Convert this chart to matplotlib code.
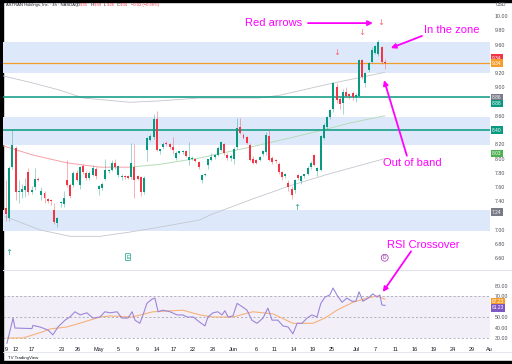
import numpy as np
import matplotlib
matplotlib.use("Agg")
import matplotlib.pyplot as plt
from matplotlib.patches import Rectangle
from matplotlib.lines import Line2D

plt.rcParams['font.family'] = ['Liberation Sans', 'DejaVu Sans']

GREEN = '#089981'
RED = '#f23645'
MAGENTA = '#ff00ff'
ZONE = '#dde9fb'

# 4h candles (index 0 = first visible bar)
opens = [7.31, 7.17, 7.88, 8.15, 7.53, 7.53, 7.56, 7.81, 7.53, 7.60,
         7.72, 7.49, 7.52, 7.43, 7.42, 7.28, 7.10, 7.38, 7.36, 7.70,
         7.63, 7.63, 7.80, 7.63, 7.89, 7.80, 7.73, 7.77, 7.86, 7.58,
         7.59, 7.72, 7.82, 7.84, 7.94, 7.77, 7.74, 7.76, 7.75, 7.74,
         7.88, 7.75, 7.74, 7.53, 8.12, 8.26, 8.30, 8.55, 8.10, 8.16,
         8.22, 8.20, 8.16, 8.01, 8.08, 8.09, 8.11, 7.98, 8.00, 7.99,
         7.95, 7.70, 7.77, 7.91, 7.98, 8.02, 8.05, 8.12, 8.20, 8.05,
         8.01, 8.00, 8.16, 8.44, 8.33, 8.30, 8.19, 8.00, 7.98, 7.98,
         8.06, 8.09, 8.31, 8.01, 7.98, 7.93, 7.81, 7.75, 7.66, 7.58,
         7.56, 7.77, 7.68, 7.75, 7.79, 7.88, 8.05, 7.82, 7.84, 8.29,
         8.44, 8.58, 8.70, 9.00, 8.84, 8.78, 8.94, 8.90, 8.92, 8.86,
         8.88, 9.38, 9.06, 9.24, 9.36, 9.48, 9.46, 9.56, 9.35]
highs = [7.70, 7.90, 8.40, 8.18, 7.70, 7.65, 7.73, 7.87, 7.62, 7.87,
         7.74, 7.60, 7.55, 7.45, 7.44, 7.38, 7.18, 7.40, 7.55, 7.98,
         7.66, 7.82, 7.84, 7.90, 7.92, 7.82, 7.82, 7.91, 7.88, 7.63,
         7.67, 8.00, 7.86, 7.98, 8.00, 7.91, 7.78, 7.77, 7.77, 8.22,
         8.20, 7.77, 7.76, 7.76, 8.30, 8.34, 8.62, 8.67, 8.14, 8.23,
         8.24, 8.22, 8.30, 8.10, 8.11, 8.12, 8.12, 8.23, 8.03, 8.00,
         7.97, 7.78, 7.80, 8.00, 8.08, 8.06, 8.17, 8.25, 8.22, 8.08,
         8.06, 8.16, 8.57, 8.57, 8.36, 8.32, 8.22, 8.03, 8.00, 8.04,
         8.12, 8.38, 8.40, 8.03, 8.00, 7.95, 7.83, 7.80, 7.70, 7.62,
         7.72, 7.79, 7.77, 7.79, 7.89, 7.96, 8.07, 7.88, 8.33, 8.50,
         8.60, 8.70, 9.08, 9.06, 8.86, 8.98, 9.00, 8.92, 8.95, 8.92,
         9.40, 9.40, 9.22, 9.36, 9.56, 9.60, 9.66, 9.58, 9.39]
lows = [7.13, 7.12, 7.86, 7.42, 7.38, 7.45, 7.46, 7.49, 7.50, 7.56,
        7.68, 7.42, 7.38, 7.38, 7.35, 7.08, 7.04, 7.32, 7.32, 7.60,
        7.45, 7.60, 7.68, 7.58, 7.78, 7.70, 7.70, 7.75, 7.72, 7.49,
        7.56, 7.70, 7.80, 7.82, 7.86, 7.74, 7.70, 7.72, 7.71, 7.72,
        7.45, 7.70, 7.48, 7.50, 7.97, 8.24, 8.28, 8.10, 8.06, 8.14,
        8.18, 8.14, 8.06, 7.98, 8.06, 8.07, 8.02, 7.91, 7.98, 7.95,
        7.86, 7.66, 7.75, 7.86, 7.96, 8.00, 8.03, 8.10, 8.05, 7.98,
        7.96, 7.93, 8.14, 8.34, 8.28, 8.20, 7.96, 7.92, 7.92, 7.96,
        8.04, 8.05, 7.96, 7.93, 7.94, 7.78, 7.70, 7.73, 7.55, 7.44,
        7.52, 7.70, 7.65, 7.73, 7.77, 7.86, 7.89, 7.76, 7.82, 8.27,
        8.42, 8.56, 8.66, 8.78, 8.70, 8.62, 8.86, 8.84, 8.82, 8.80,
        8.86, 9.12, 9.00, 9.22, 9.34, 9.46, 9.44, 9.32, 9.26]
closes = [7.22, 7.87, 8.19, 7.53, 7.55, 7.58, 7.61, 7.53, 7.56, 7.71,
          7.70, 7.55, 7.45, 7.41, 7.41, 7.11, 7.17, 7.39, 7.45, 7.63,
          7.48, 7.80, 7.70, 7.88, 7.81, 7.73, 7.80, 7.87, 7.75, 7.61,
          7.65, 7.84, 7.84, 7.94, 7.88, 7.89, 7.76, 7.74, 7.73, 7.94,
          7.70, 7.72, 7.53, 7.73, 8.29, 8.32, 8.55, 8.12, 8.13, 8.21,
          8.20, 8.16, 8.12, 8.08, 8.10, 8.11, 8.04, 8.02, 8.01, 7.97,
          7.88, 7.77, 7.79, 7.99, 8.02, 8.05, 8.15, 8.23, 8.08, 8.01,
          8.03, 8.14, 8.43, 8.36, 8.29, 8.22, 7.98, 7.94, 7.94, 8.02,
          8.10, 8.33, 7.98, 7.95, 7.96, 7.81, 7.74, 7.78, 7.60, 7.49,
          7.70, 7.73, 7.75, 7.78, 7.87, 7.94, 7.91, 7.87, 8.31, 8.47,
          8.58, 8.68, 9.06, 8.82, 8.76, 8.93, 8.88, 8.88, 8.86, 8.89,
          9.38, 9.14, 9.20, 9.34, 9.52, 9.58, 9.64, 9.36, 9.34]

# moving average and envelope curves (bar index, price)
mid_idx = [-1, 8.4, 19, 29.3, 38.6, 48, 60.4, 76, 88.5, 97.8, 107.2, 118]
mid_vals = [8.18, 8.05, 7.94, 7.88, 7.88, 7.92, 8.01, 8.16, 8.29, 8.39, 8.50, 8.60]
upper_idx = [-1, 7.5, 16.8, 24, 38.6, 48, 60.4, 79, 85.4, 101, 118]
upper_vals = [9.16, 9.07, 8.96, 8.85, 8.79, 8.81, 8.85, 8.85, 8.89, 9.05, 9.21]
lower_idx = [-0.3, 10.6, 20, 29.3, 38.6, 48, 60.4, 63.6, 76, 88.5, 101, 118]
lower_vals = [7.19, 7.00, 6.91, 6.91, 6.97, 7.04, 7.14, 7.21, 7.42, 7.62, 7.79, 8.00]

# RSI and its moving average (bar index, value)
rsi_idx = [0.3, 2.2, 2.8, 8.1, 8.4, 10.6, 13.1, 14.6, 16.2, 18.4, 19.9, 21.5, 23.1,
           25.2, 27.1, 29.3, 30.8, 32.4, 34.6, 36.1, 38.0, 39.3, 40.2, 41.7, 42.7,
           43.9, 45.5, 46.4, 47.4, 48.9, 51.1, 53.3, 55.1, 56.4, 58.3, 60.4, 62.0,
           62.9, 64.5, 66.0, 67.3, 68.2, 69.2, 70.7, 72.0, 73.5, 75.1, 76.6, 78.2,
           80.1, 81.6, 82.9, 84.7, 86.3, 87.9, 89.4, 90.7, 92.2, 93.8, 95.3, 96.9,
           98.1, 99.4, 100.9, 101.9, 103.1, 104.7, 106.2, 107.8, 109.0, 110.0,
           111.2, 112.8, 114.3, 115.6, 116.5, 117.1, 118.1]
rsi_vals = [25, 49, 39.5, 39, 42, 40.5, 37.6, 33, 40.5, 47, 50, 55, 52, 54, 49, 50,
            55, 54, 55, 49, 49, 55, 47, 44, 52, 63, 67, 68, 55, 56.5, 55, 52, 52,
            50, 50, 45, 41.5, 50, 54, 55, 52, 56, 50, 51, 63, 60, 56.5, 47, 44, 49,
            58.5, 47, 47, 41.5, 40.5, 34, 44, 44, 49, 52, 50, 63, 69, 71, 77.6, 71,
            64, 68, 65, 65, 74, 65, 68, 72, 69, 71, 61.5, 61]
rsi_ma_idx = [0.3, 5.3, 11.5, 13.7, 18.9, 24, 29.3, 32.4, 39.3, 45.8, 55.1, 60.4,
              64.5, 70.7, 76.9, 83.2, 89.4, 95.6, 99.4, 103.1, 108.1, 112.5, 115.6, 118.1]
rsi_ma_vals = [30, 30, 36, 38.6, 40.5, 45, 50, 51, 50, 55, 56.5, 52, 50, 50, 55, 53,
               44, 44, 49, 56.5, 64, 68, 70, 67]

# zones and key levels
zones = [(9.20, 9.64), (8.19, 8.58), (6.98, 7.28)]
green_levels = [8.86, 8.40]
last_price = 9.34

price_ticks = [10.0, 9.8, 9.6, 9.2, 9.0, 8.6, 8.2, 8.0, 7.8, 7.6, 7.4, 7.0, 6.8, 6.6]
rsi_ticks = [80, 70, 50, 40, 30]

date_labels = ['9', '12', '17', '23', '26', 'May', '5', '9', '14', '17', '22', '28', 'Jun',
               '6', '11', '14', '19', '25', 'Jul', '7', '11', '16', '19', '24', '29', 'Au']
date_idx = [0, 3.1, 8.1, 17.4, 22.4, 29.0, 34.9, 40.8, 47.0, 52.3, 58.3, 64.5, 70.7,
            77.9, 83.8, 89.7, 95.6, 101.6, 109.3, 115.0, 121.5, 127.4, 133.3, 139.3,
            145.2, 150.5]

# price scale tags: (text, drawn at, colour)
price_tags = [('9.34', 9.41, RED), ('9.34', 9.34, '#f59d2a'), ('8.86', 8.85, '#787b86'),
              ('8.88', 8.77, GREEN), ('8.40', 8.40, GREEN), ('8.03', 8.075, '#4caf50'),
              ('7.24', 7.25, '#787b86')]
rsi_tags = [('67.23', 64.6, '#f59d2a'), ('61.23', 58.6, '#7e57c2')]

W, H = 512, 364
fig = plt.figure(figsize=(W / 100, H / 100), dpi=100)
fig.patch.set_facecolor('white')

ax = fig.add_axes([3 / W, (H - 268) / H, 487 / W, 266 / H])
ax_rsi = fig.add_axes([3 / W, (H - 344) / H, 487 / W, 72 / H])
ax.set_zorder(3)
ax.patch.set_visible(False)

xlim = (-0.93, 150.8)
for a in (ax, ax_rsi):
    a.set_xlim(*xlim)
    for s in a.spines.values():
        s.set_visible(False)
    a.yaxis.tick_right()
    a.tick_params(axis='y', length=0, labelsize=3.8, labelcolor='#4a4d57', pad=3.6)
ax.set_ylim(6.466, 10.196)
ax.set_xticks([])

# zones and horizontal levels
for lo, hi in zones:
    ax.axhspan(lo, hi, color=ZONE, lw=0, zorder=0)
for lvl in green_levels:
    ax.axhline(lvl, color=GREEN, lw=1.1, zorder=2)
ax.axhline(last_price, color='#f59d2a', lw=0.9, zorder=2)

# envelope + moving average
ax.plot(upper_idx, upper_vals, color='#c3c6cd', lw=0.6, zorder=1)
ax.plot(lower_idx, lower_vals, color='#c3c6cd', lw=0.6, zorder=1)
ax.plot(mid_idx[:5], mid_vals[:5], color='#f7a1a8', lw=0.7, zorder=1)
ax.plot(mid_idx[4:], mid_vals[4:], color='#b5dcb7', lw=0.7, zorder=1)

# candles
o = np.array(opens); h = np.array(highs); l = np.array(lows); c = np.array(closes)
x = np.arange(len(c))
cols = np.where(c >= o, GREEN, RED)
ax.vlines(x, l, h, colors=cols, lw=0.6, alpha=0.45, zorder=3)
ax.bar(x, np.maximum(np.abs(c - o), 0.012), bottom=np.minimum(o, c), width=0.62,
       color=cols, lw=0, zorder=4)

ax.set_yticks(price_ticks)
ax.set_yticklabels([f'{v:.2f}' for v in price_ticks])

# event markers
for xi, yi in [(103, 9.49), (111, 9.77), (116.8, 9.91)]:
    ax.text(xi, yi, '↓', color='#f7525f', alpha=0.85, fontsize=6, ha='center',
            va='center', zorder=5, family=['DejaVu Sans'])
for xi, yi in [(90.7, 7.31), (0.9, 6.68)]:
    ax.text(xi, yi, '↑', color=GREEN, alpha=0.85, fontsize=6, ha='center',
            va='center', zorder=5, family=['DejaVu Sans'])
ax.text(38, 6.62, 'E', color=GREEN, fontsize=3.5, ha='center', va='center',
        bbox=dict(boxstyle='round,pad=0.2', fc='white', ec=GREEN, lw=0.5))
ax.text(118, 6.61, 'D', color='#9c27b0', fontsize=3.5, ha='center', va='center',
        bbox=dict(boxstyle='circle,pad=0.2', fc='white', ec='#9c27b0', lw=0.5))

for txt, yv, colr in price_tags:
    ax.text(1.004, yv, txt, transform=ax.get_yaxis_transform(), ha='left', va='center',
            fontsize=3.5, color='white', zorder=6, clip_on=False,
            bbox=dict(boxstyle='square,pad=0.25', fc=colr, ec='none'))

# RSI pane
ax_rsi.set_ylim(24.3, 92.86)
ax_rsi.axhspan(30, 70, color='#7e57c2', alpha=0.09, lw=0)
for lvl in (70, 50, 30):
    ax_rsi.axhline(lvl, color='#9598a1', lw=0.5, ls=(0, (3, 3)))
ax_rsi.plot(rsi_ma_idx, rsi_ma_vals, color='#f7b27a', lw=0.8)
ax_rsi.plot(rsi_idx, rsi_vals, color='#9b87d8', lw=0.8)
ax_rsi.set_yticks(rsi_ticks)
ax_rsi.set_yticklabels([f'{v:.2f}' for v in rsi_ticks])
ax_rsi.set_xticks(date_idx)
ax_rsi.set_xticklabels(date_labels)
ax_rsi.tick_params(axis='x', length=0, labelsize=4, labelcolor='#131722', pad=2.2)
for txt, yv, colr in rsi_tags:
    ax_rsi.text(1.004, yv, txt, transform=ax_rsi.get_yaxis_transform(), ha='left',
                va='center', fontsize=3.5, color='white', zorder=6, clip_on=False,
                bbox=dict(boxstyle='square,pad=0.25', fc=colr, ec='none'))

# annotations
akw = dict(arrowstyle='-|>', color=MAGENTA, lw=1.3, mutation_scale=7, shrinkA=0, shrinkB=0)
ax.text(74.4, 9.90, 'Red arrows', color=MAGENTA, fontsize=8, ha='left', va='center')
ax.annotate('', xy=(114.3, 9.90), xytext=(94.1, 9.90), arrowprops=akw)
ax.text(130.2, 9.80, 'In the zone', color=MAGENTA, fontsize=8, ha='left', va='center')
ax.annotate('', xy=(119.9, 9.55), xytext=(129.6, 9.72), arrowprops=akw)
ax.text(117.4, 7.94, 'Out of band', color=MAGENTA, fontsize=8, ha='left', va='center')
ax.annotate('', xy=(117.8, 9.10), xytext=(124.9, 8.04), arrowprops=akw)
ax.text(118.7, 6.79, 'RSI Crossover', color=MAGENTA, fontsize=8, ha='left', va='center',
        clip_on=False)
ax.annotate('', xy=(117.4, 73.8), xycoords=ax_rsi.transData, xytext=(126.2, 6.70),
            textcoords='data', arrowprops=akw, annotation_clip=False)

# header, scale caption, separators, frame
fig.text(6 / W, 1 - 5 / H, 'ASTRAN Holdings, Inc. · 4h · NASDAQ', fontsize=3,
         color='#131722', va='center')
hx = [(77, 'O', '#131722'), (80, '9.35', RED), (91, 'H', '#131722'), (94, '9.39', RED),
      (104, 'L', '#131722'), (107, '9.26', RED), (117, 'C', '#131722'), (120, '9.34', RED),
      (131, '−0.02 (−0.26%)', RED)]
for px, t, colr in hx:
    fig.text(px / W, 1 - 5 / H, t, fontsize=3, color=colr, va='center')
fig.text(501 / W, 1 - 5 / H, 'USD', fontsize=3.6, color='#4a4d57', ha='center', va='center')
fig.text(8 / W, 1 - 358 / H, 'TV TradingView', fontsize=3.2, color='#131722', va='center')
fig.add_artist(Line2D([3 / W, 1], [1 - 270 / H] * 2, color='#e0e3eb', lw=0.8))
fig.add_artist(Line2D([3 / W, 1], [1 - 352 / H] * 2, color='#e0e3eb', lw=0.6))
fig.add_artist(Rectangle((0, 0), 3 / W, 1, transform=fig.transFigure, color='black'))
fig.add_artist(Rectangle((0, 1 - 2 / H), 1, 2 / H, transform=fig.transFigure, color='black'))
fig.add_artist(Rectangle((0, 0), 1, 3 / H, transform=fig.transFigure, color='black'))

fig.savefig('out.png', dpi=100)
